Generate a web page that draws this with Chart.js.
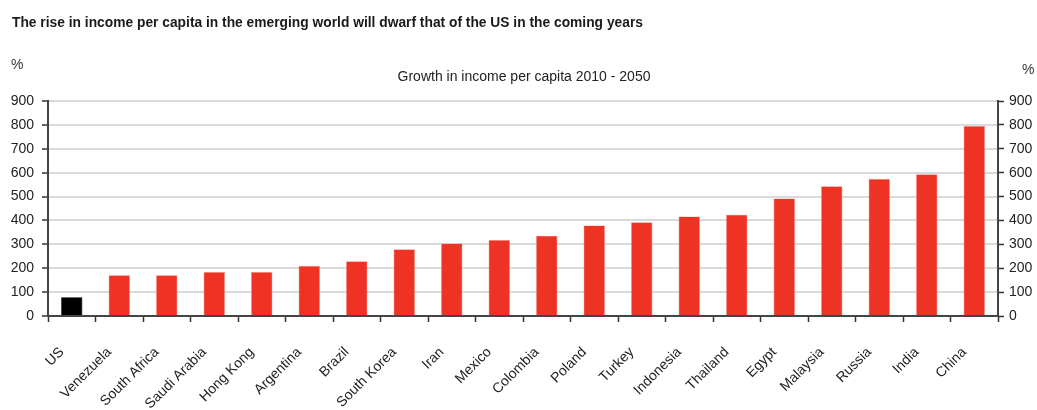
<!DOCTYPE html>
<html>
<head>
<meta charset="utf-8">
<script src="https://cdn.jsdelivr.net/npm/chart.js@4/dist/chart.umd.min.js"></script>
<style>
html,body{margin:0;padding:0;background:#fff;}
#wrap{width:1037px;height:410px;position:relative;}
</style>
</head>
<body>
<div id="wrap"><canvas id="c" width="1037" height="410"></canvas></div>
<script>
const categories = ["US","Venezuela","South Africa","Saudi Arabia","Hong Kong","Argentina","Brazil","South Korea","Iran","Mexico","Colombia","Poland","Turkey","Indonesia","Thailand","Egypt","Malaysia","Russia","India","China"];
const growthValues = [78,171,171,184,184,210,229,279,304,318,336,379,392,417,424,492,543,574,593,795];
const yTicks = [0,100,200,300,400,500,600,700,800,900];
const titleText = "The rise in income per capita in the emerging world will dwarf that of the US in the coming years";
const subtitleText = "Growth in income per capita 2010 - 2050";
const unitLabel = "%";

const FONT = "'Liberation Sans Narrow','Liberation Sans',Arial,sans-serif";
const barColors = categories.map(c => c === "US" ? "#000000" : "#EE3224");

const textPlugin = {
  id: 'texts',
  afterDraw(chart) {
    const ctx = chart.ctx;
    ctx.save();
    ctx.fillStyle = '#1a1a1a';
    ctx.textBaseline = 'alphabetic';
    ctx.font = "bold 13.8px " + FONT;
    ctx.textAlign = 'left';
    ctx.fillText(titleText, 12, 27);
    ctx.font = "14px " + FONT;
    ctx.fillStyle = '#222';
    ctx.textAlign = 'center';
    ctx.fillText(subtitleText, 524, 81);
    ctx.font = "14px " + FONT;
    ctx.fillStyle = '#333';
    ctx.textAlign = 'left';
    ctx.fillText(unitLabel, 11, 69);
    ctx.fillText(unitLabel, 1022, 74);
    ctx.restore();
  }
};

new Chart(document.getElementById('c'), {
  type: 'bar',
  data: {
    labels: categories,
    datasets: [{
      data: growthValues,
      backgroundColor: barColors,
      borderColor: barColors.map(c => c === "#000000" ? "#000" : "#F4867E"),
      borderWidth: 0.6,
      barPercentage: 0.45,
      categoryPercentage: 1.0
    }]
  },
  options: {
    responsive: false,
    animation: false,
    devicePixelRatio: 1,
    layout: { padding: { top: 101, left: 0, right: 0, bottom: 0 } },
    plugins: { legend: { display: false }, tooltip: { enabled: false }, title: { display: false } },
    scales: {
      x: {
        offset: true,
        grid: { offset: true, drawOnChartArea: false, drawTicks: true, tickLength: 6, tickColor: '#333', tickWidth: 1.5 },
        border: { color: '#444', width: 2 },
        ticks: {
          maxRotation: 45, minRotation: 45, autoSkip: false,
          color: '#222', padding: 22, labelOffset: -10,
          font: { family: FONT, size: 14 }
        },
        afterFit(scale) { scale.height = 94; }
      },
      y: {
        position: 'left',
        min: 0, max: 900,
        afterBuildTicks(scale) { scale.ticks = yTicks.map(v => ({ value: v })); },
        grid: { color: '#DADADA', lineWidth: 2, drawTicks: true, tickLength: 6, tickColor: '#333', tickWidth: 1.5 },
        border: { color: '#444', width: 2 },
        ticks: { color: '#222', padding: 8, font: { family: FONT, size: 14 } },
        afterFit(scale) { scale.width = 48; }
      },
      y2: {
        position: 'right',
        min: 0, max: 900,
        afterBuildTicks(scale) { scale.ticks = yTicks.map(v => ({ value: v })); },
        grid: { drawOnChartArea: false, drawTicks: true, tickLength: 6, tickColor: '#333', tickWidth: 1.5 },
        border: { color: '#444', width: 2 },
        ticks: { color: '#222', padding: 5, font: { family: FONT, size: 14 } },
        afterFit(scale) { scale.width = 39; }
      }
    }
  },
  plugins: [textPlugin]
});
</script>
</body>
</html>
